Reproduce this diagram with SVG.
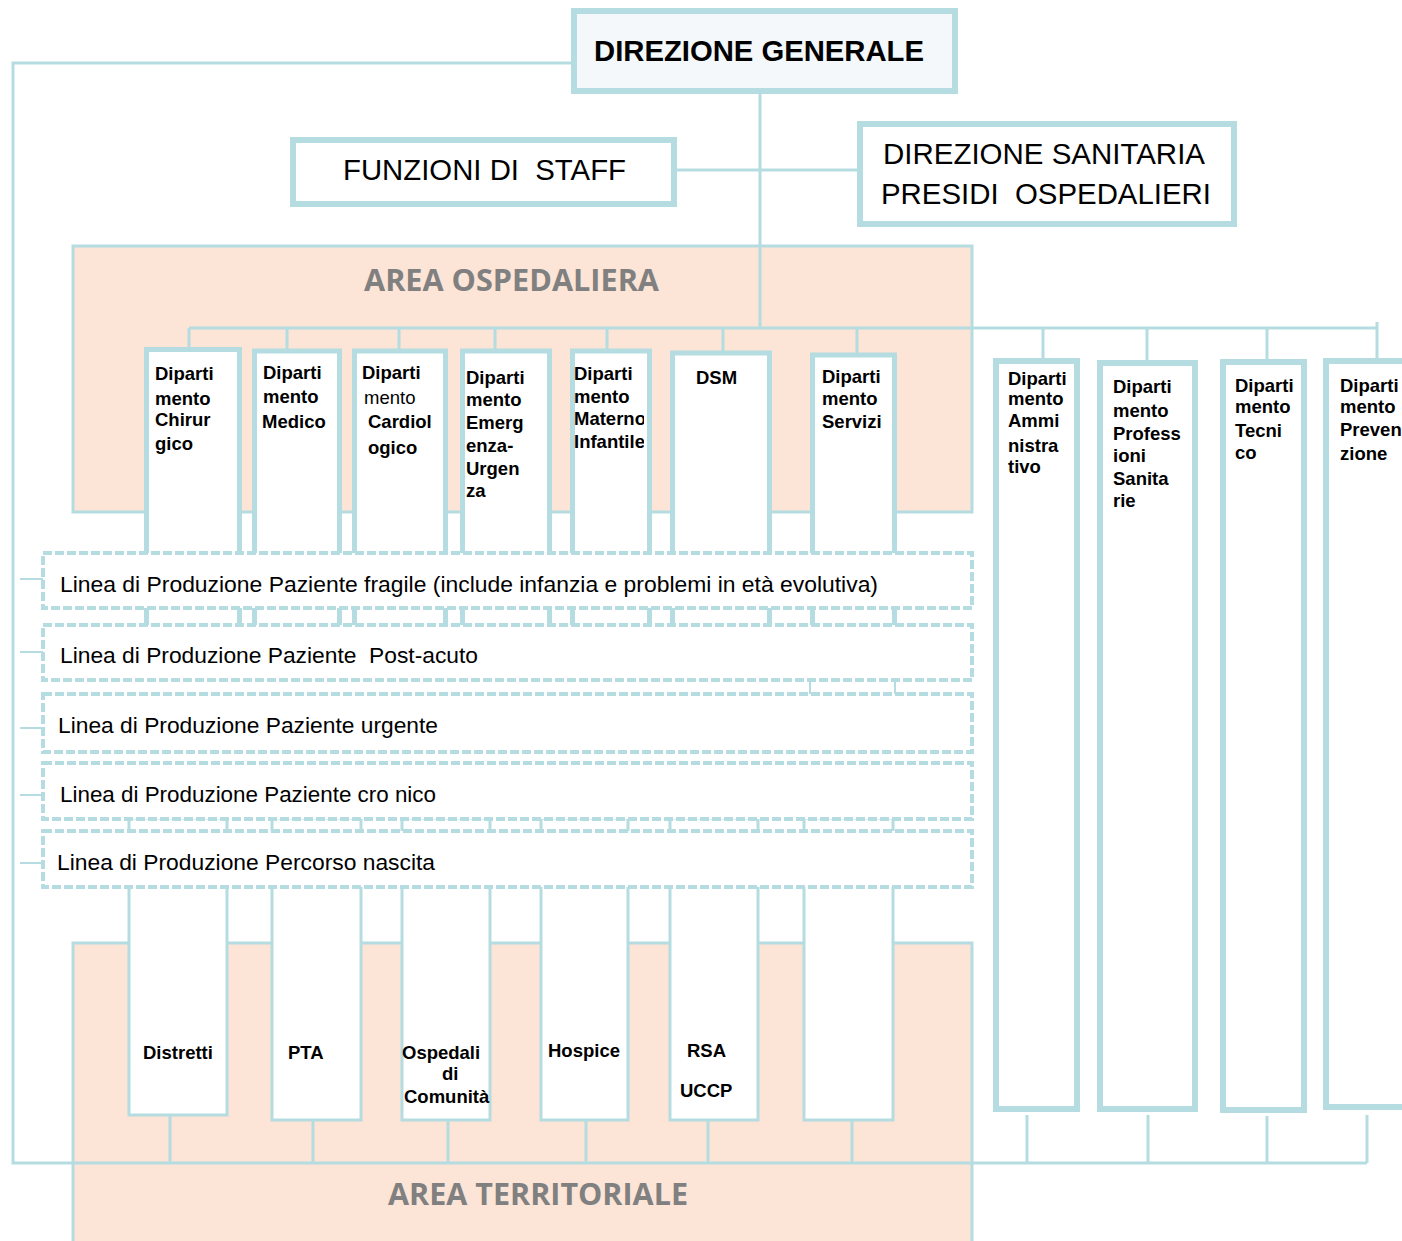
<svg xmlns="http://www.w3.org/2000/svg" width="1402" height="1241" viewBox="0 0 1402 1241">
<defs>
<style>
.ln{stroke:#b5dce0;stroke-width:3;fill:none}
.tk{stroke:#b5dce0;stroke-width:2;fill:none}
.hb{fill:#f4f8fa;stroke:#b5dce0;stroke-width:6}
.wb{fill:#ffffff;stroke:#b5dce0;stroke-width:6}
.db{fill:#ffffff;stroke:#b5dce0;stroke-width:5}
.tb{fill:#ffffff;stroke:#b5dce0;stroke-width:3}
.dash{fill:#ffffff;stroke:#b5dce0;stroke-width:4;stroke-dasharray:9 3}
.area{fill:#fce4d6;stroke:#b5dce0;stroke-width:3}
text{font-family:"Liberation Sans",Arial,sans-serif;fill:#000;white-space:pre}
.big{font-size:30px}
.bold{font-weight:bold}
.d{font-size:18.5px;font-weight:bold}
.dr{font-size:18.5px}
.row{font-size:22px}
.at{font-family:"Open Sans","Liberation Sans",Arial,sans-serif;font-weight:bold;font-size:31px;fill:#808080}
</style>
<clipPath id="clipMat"><rect x="570" y="350" width="74" height="200"/></clipPath>
<clipPath id="clipPrev"><rect x="1320" y="350" width="82" height="200"/></clipPath>
</defs>
<rect width="1402" height="1241" fill="#ffffff"/>

<g id="area-ospedaliera">
<rect class="area" x="73" y="246" width="899" height="266"/>
<text class="at" x="364" y="291" textLength="295" lengthAdjust="spacingAndGlyphs">AREA OSPEDALIERA</text>
</g>
<g id="area-territoriale">
<rect class="area" x="73" y="943" width="899" height="320"/>
<text class="at" x="388" y="1205" textLength="300" lengthAdjust="spacingAndGlyphs">AREA TERRITORIALE</text>
</g>

<g id="connectors">
<polyline class="ln" points="571,63 13,63 13,1163 972,1163"/>
<line class="ln" x1="760" y1="94" x2="760" y2="328"/>
<line class="ln" x1="677" y1="170" x2="858" y2="170"/>
<line class="ln" x1="189" y1="328" x2="1377" y2="328"/>
<line class="ln" x1="189" y1="328" x2="189" y2="349"/>
<line class="ln" x1="287" y1="328" x2="287" y2="351"/>
<line class="ln" x1="399" y1="328" x2="399" y2="351"/>
<line class="ln" x1="495" y1="328" x2="495" y2="351"/>
<line class="ln" x1="607" y1="328" x2="607" y2="351"/>
<line class="ln" x1="723" y1="328" x2="723" y2="353"/>
<line class="ln" x1="857" y1="328" x2="857" y2="355"/>
<line class="ln" x1="1043" y1="328" x2="1043" y2="358"/>
<line class="ln" x1="1147" y1="328" x2="1147" y2="360"/>
<line class="ln" x1="1267" y1="328" x2="1267" y2="359"/>
<line class="ln" x1="1377" y1="322" x2="1377" y2="358"/>
<line class="ln" x1="972" y1="1163" x2="1367" y2="1163"/>
<line class="ln" x1="1027" y1="1115" x2="1027" y2="1163"/>
<line class="ln" x1="1148" y1="1115" x2="1148" y2="1163"/>
<line class="ln" x1="1267" y1="1116" x2="1267" y2="1163"/>
<line class="ln" x1="1367" y1="1115" x2="1367" y2="1163"/>
<line class="ln" x1="170" y1="1115" x2="170" y2="1163"/>
<line class="ln" x1="313" y1="1120" x2="313" y2="1163"/>
<line class="ln" x1="448" y1="1120" x2="448" y2="1163"/>
<line class="ln" x1="586" y1="1120" x2="586" y2="1163"/>
<line class="ln" x1="708" y1="1120" x2="708" y2="1163"/>
<line class="ln" x1="852" y1="1120" x2="852" y2="1163"/>
<line class="tk" x1="20" y1="579" x2="43" y2="579"/>
<line class="tk" x1="20" y1="652" x2="43" y2="652"/>
<line class="tk" x1="20" y1="728" x2="43" y2="728"/>
<line class="tk" x1="20" y1="795" x2="43" y2="795"/>
<line class="tk" x1="20" y1="863" x2="43" y2="863"/>
<line class="tk" x1="810" y1="680" x2="810" y2="694"/>
<line class="tk" x1="895" y1="680" x2="895" y2="694"/>
</g>

<g id="direzione-generale">
<rect class="hb" x="574" y="11" width="381" height="80"/>
<text class="big bold" x="594" y="61" textLength="330" lengthAdjust="spacingAndGlyphs">DIREZIONE GENERALE</text>
</g>
<g id="funzioni-staff">
<rect class="wb" x="293" y="140" width="381" height="64"/>
<text class="big" x="343" y="180" textLength="283" lengthAdjust="spacingAndGlyphs">FUNZIONI DI  STAFF</text>
</g>
<g id="direzione-sanitaria">
<rect class="wb" x="860" y="124" width="374" height="100"/>
<text class="big" x="883" y="164" textLength="322" lengthAdjust="spacingAndGlyphs">DIREZIONE SANITARIA</text>
<text class="big" x="881" y="204" textLength="330" lengthAdjust="spacingAndGlyphs">PRESIDI  OSPEDALIERI</text>
</g>

<g id="dip-chirurgico">
<rect class="db" x="146.5" y="349.5" width="93" height="280"/>
<text class="d" x="155" y="380">Diparti</text>
<text class="d" x="155" y="405">mento</text>
<text class="d" x="155" y="426">Chirur</text>
<text class="d" x="155" y="450">gico</text>
</g>
<g id="dip-medico">
<rect class="db" x="254.5" y="351" width="85" height="278"/>
<text class="d" x="263" y="379">Diparti</text>
<text class="d" x="263" y="403">mento</text>
<text class="d" x="262" y="428">Medico</text>
</g>
<g id="dip-cardiologico">
<rect class="db" x="354.5" y="351" width="91" height="278"/>
<text class="d" x="362" y="379">Diparti</text>
<text class="dr" x="364" y="404">mento</text>
<text class="d" x="368" y="428">Cardiol</text>
<text class="d" x="368" y="454">ogico</text>
</g>
<g id="dip-emergenza">
<rect class="db" x="462.5" y="351" width="87" height="278"/>
<text class="d" x="466" y="384">Diparti</text>
<text class="d" x="466" y="406">mento</text>
<text class="d" x="466" y="429">Emerg</text>
<text class="d" x="466" y="452">enza-</text>
<text class="d" x="466" y="475">Urgen</text>
<text class="d" x="466" y="497">za</text>
</g>
<g id="dip-materno">
<rect class="db" x="572.5" y="351" width="77" height="278"/>
<g clip-path="url(#clipMat)">
<text class="d" x="574" y="380">Diparti</text>
<text class="d" x="574" y="403">mento</text>
<text class="d" x="574" y="425">Materno</text>
<text class="d" x="574" y="448">Infantile</text>
</g>
</g>
<g id="dsm">
<rect class="db" x="672.5" y="353" width="97" height="276"/>
<text class="d" x="696" y="384">DSM</text>
</g>
<g id="dip-servizi">
<rect class="db" x="812.5" y="355" width="82" height="274"/>
<text class="d" x="822" y="383">Diparti</text>
<text class="d" x="822" y="405">mento</text>
<text class="d" x="822" y="428">Servizi</text>
</g>

<g id="dip-amministrativo">
<rect class="wb" x="996" y="361" width="81" height="748"/>
<text class="d" x="1008" y="385">Diparti</text>
<text class="d" x="1008" y="405">mento</text>
<text class="d" x="1008" y="427">Ammi</text>
<text class="d" x="1008" y="452">nistra</text>
<text class="d" x="1008" y="473">tivo</text>
</g>
<g id="dip-professioni">
<rect class="wb" x="1100" y="363" width="95" height="746"/>
<text class="d" x="1113" y="393">Diparti</text>
<text class="d" x="1113" y="417">mento</text>
<text class="d" x="1113" y="440">Profess</text>
<text class="d" x="1113" y="462">ioni</text>
<text class="d" x="1113" y="485">Sanita</text>
<text class="d" x="1113" y="507">rie</text>
</g>
<g id="dip-tecnico">
<rect class="wb" x="1223" y="362" width="81" height="748"/>
<text class="d" x="1235" y="392">Diparti</text>
<text class="d" x="1235" y="413">mento</text>
<text class="d" x="1235" y="437">Tecni</text>
<text class="d" x="1235" y="459">co</text>
</g>
<g id="dip-prevenzione">
<rect class="wb" x="1326" y="361" width="100" height="746"/>
<g clip-path="url(#clipPrev)">
<text class="d" x="1340" y="392">Diparti</text>
<text class="d" x="1340" y="413">mento</text>
<text class="d" x="1340" y="436">Preven</text>
<text class="d" x="1340" y="460">zione</text>
</g>
</g>

<g id="distretti">
<rect class="tb" x="129" y="818" width="98" height="297"/>
<text class="d" x="143" y="1059">Distretti</text>
</g>
<g id="pta">
<rect class="tb" x="272" y="818" width="89" height="302"/>
<text class="d" x="288" y="1059">PTA</text>
</g>
<g id="ospedali-comunita">
<rect class="tb" x="402" y="818" width="88" height="302"/>
<text class="d" x="402" y="1059">Ospedali</text>
<text class="d" x="442" y="1080">di</text>
<text class="d" x="404" y="1103">Comunità</text>
</g>
<g id="hospice">
<rect class="tb" x="541" y="818" width="87" height="302"/>
<text class="d" x="548" y="1057">Hospice</text>
</g>
<g id="rsa-uccp">
<rect class="tb" x="670" y="818" width="88" height="302"/>
<text class="d" x="687" y="1057">RSA</text>
<text class="d" x="680" y="1097">UCCP</text>
</g>
<g id="territorio-vuoto">
<rect class="tb" x="804" y="818" width="89" height="302"/>
</g>

<g id="linea-fragile">
<rect class="dash" x="43" y="553" width="929" height="55"/>
<text class="row" x="60" y="592" textLength="818" lengthAdjust="spacingAndGlyphs">Linea di Produzione Paziente fragile (include infanzia e problemi in età evolutiva)</text>
</g>
<g id="linea-post-acuto">
<rect class="dash" x="43" y="625" width="929" height="55"/>
<text class="row" x="60" y="663" textLength="418" lengthAdjust="spacingAndGlyphs">Linea di Produzione Paziente  Post-acuto</text>
</g>
<g id="linea-urgente">
<rect class="dash" x="43" y="694" width="929" height="58"/>
<text class="row" x="58" y="733" textLength="380" lengthAdjust="spacingAndGlyphs">Linea di Produzione Paziente urgente</text>
</g>
<g id="linea-cronico">
<rect class="dash" x="43" y="763" width="929" height="56"/>
<text class="row" x="60" y="802" textLength="376" lengthAdjust="spacingAndGlyphs">Linea di Produzione Paziente cro nico</text>
</g>
<g id="linea-nascita">
<rect class="dash" x="43" y="831" width="929" height="56"/>
<text class="row" x="57" y="870" textLength="378" lengthAdjust="spacingAndGlyphs">Linea di Produzione Percorso nascita</text>
</g>
</svg>
